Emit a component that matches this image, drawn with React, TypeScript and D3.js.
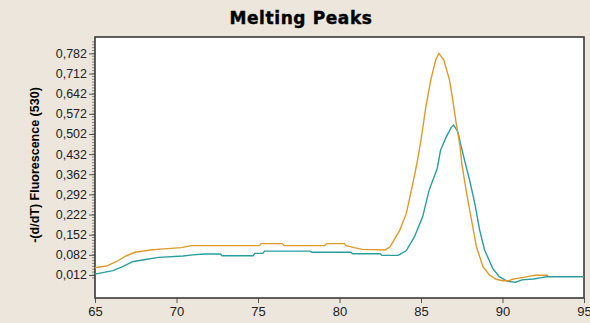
import React, { useEffect, useRef } from 'react';
import * as d3 from 'd3';

const title = 'Melting Peaks';
const yLabel = '-(d/dT) Fluorescence (530)';
const xTicks = [65, 70, 75, 80, 85, 90, 95];
const yTicks = [0.012, 0.082, 0.152, 0.222, 0.292, 0.362, 0.432, 0.502, 0.572, 0.642, 0.712, 0.782];

// orange curve
const orangeT = [65, 65.7, 66.3, 66.9, 67.45, 68.4, 69, 70.3, 70.9, 75.1, 75.2, 76.5, 76.6, 79.1, 79.2, 80.3, 80.4, 80.9, 81.4, 82.8, 83.1, 83.7, 84.1, 84.5, 84.75, 85.0, 85.3, 85.6, 85.9, 86.1, 86.4, 86.75, 86.95, 87.16, 87.4, 87.5, 87.8, 88.1, 88.4, 88.8, 89.2, 89.6, 90.0, 90.4, 90.6, 91.2, 91.6, 92.0, 92.8];
const orangeV = [0.037, 0.043, 0.058, 0.078, 0.091, 0.099, 0.102, 0.107, 0.114, 0.114, 0.121, 0.121, 0.114, 0.114, 0.121, 0.121, 0.114, 0.107, 0.101, 0.099, 0.110, 0.168, 0.226, 0.330, 0.400, 0.481, 0.597, 0.689, 0.759, 0.782, 0.759, 0.689, 0.620, 0.539, 0.458, 0.400, 0.296, 0.203, 0.110, 0.041, 0.012, -0.003, -0.008, -0.008, -0.003, 0.003, 0.007, 0.011, 0.011];

// teal curve
const tealT = [65, 66.1, 66.7, 67.3, 68.1, 68.9, 70.4, 71.0, 71.7, 72.7, 72.8, 74.7, 74.8, 75.3, 75.4, 78.2, 78.3, 80.7, 80.8, 82.5, 82.6, 83.6, 84.1, 84.6, 85.1, 85.5, 86.0, 86.2, 86.55, 86.86, 87.0, 87.26, 87.47, 87.67, 87.98, 88.3, 88.6, 88.9, 89.4, 89.8, 90.3, 90.8, 91.2, 91.9, 92.4, 92.7, 95];
const tealV = [0.015, 0.027, 0.041, 0.058, 0.066, 0.073, 0.078, 0.082, 0.085, 0.085, 0.079, 0.079, 0.087, 0.087, 0.095, 0.095, 0.091, 0.091, 0.086, 0.086, 0.080, 0.080, 0.097, 0.145, 0.214, 0.307, 0.383, 0.446, 0.492, 0.525, 0.533, 0.510, 0.458, 0.411, 0.342, 0.261, 0.168, 0.099, 0.035, 0.006, -0.010, -0.013, -0.005, -0.002, 0.003, 0.006, 0.006];

const W = 590;
const H = 323;

export default function App() {
  const svgRef = useRef<SVGSVGElement>(null);

  useEffect(() => {
    const svg = d3.select(svgRef.current);
    svg.selectAll('*').remove();

    const left = 95, right = 584, top = 37, bottom = 298;

    const x = d3.scaleLinear().domain([65, 95]).range([left, right]);
    const y = d3.scaleLinear().domain([-0.068, 0.839]).range([bottom, top]);

    svg.append('rect').attr('width', W).attr('height', H).attr('fill', '#ece6dc');
    svg.append('rect')
      .attr('x', left).attr('y', top)
      .attr('width', right - left).attr('height', bottom - top)
      .attr('fill', '#ffffff');

    // title
    svg.append('text')
      .attr('x', 301).attr('y', 24)
      .attr('text-anchor', 'middle')
      .style('font-family', '"DejaVu Sans", sans-serif')
      .style('font-weight', 'bold')
      .style('font-size', '17px')
      .style('letter-spacing', '0.6px')
      .attr('stroke', '#000')
      .attr('stroke-width', 0.4)
      .text(title);

    // y label
    svg.append('text')
      .attr('transform', `translate(39, 165) rotate(-90)`)
      .attr('text-anchor', 'middle')
      .style('font-family', '"Liberation Sans", Arial, sans-serif')
      .style('font-weight', 'bold')
      .style('font-size', '12.5px')
      .text(yLabel);

    const fmt = (d: number) => d3.format('.3f')(d).replace('.', ',');

    // minor y ticks
    const minor = d3.range(0.002, 0.83, 0.01);
    svg.append('g')
      .selectAll('line')
      .data(minor)
      .enter()
      .append('line')
      .attr('x1', left - 3).attr('x2', left)
      .attr('y1', d => y(d)).attr('y2', d => y(d))
      .attr('stroke', '#888').attr('stroke-width', 1);

    const yAxis = d3.axisLeft(y).tickValues(yTicks).tickFormat(d => fmt(d as number)).tickSize(6).tickPadding(2);
    const gy = svg.append('g').attr('transform', `translate(${left},0)`).call(yAxis);
    gy.select('.domain').remove();
    gy.selectAll('line').attr('stroke', '#555');
    gy.selectAll('text')
      .style('font-family', '"Liberation Sans", Arial, sans-serif')
      .style('font-size', '12.5px')
      .attr('fill', '#222');

    const xAxis = d3.axisBottom(x).tickValues(xTicks).tickFormat(d3.format('d')).tickSize(5).tickPadding(4);
    const gx = svg.append('g').attr('transform', `translate(0,${bottom})`).call(xAxis);
    gx.select('.domain').remove();
    gx.selectAll('line').attr('stroke', '#555');
    gx.selectAll('text')
      .style('font-family', '"Liberation Sans", Arial, sans-serif')
      .style('font-size', '13px')
      .attr('fill', '#222');

    // frame
    svg.append('rect')
      .attr('x', left).attr('y', top)
      .attr('width', right - left).attr('height', bottom - top)
      .attr('fill', 'none')
      .attr('stroke', '#3a3a3a')
      .attr('stroke-width', 1.6);

    const line = d3.line<[number, number]>()
      .x(d => x(d[0]))
      .y(d => y(d[1]));

    const orange: [number, number][] = orangeT.map((t, i) => [t, orangeV[i]]);
    const teal: [number, number][] = tealT.map((t, i) => [t, tealV[i]]);

    svg.append('path').datum(teal)
      .attr('d', line)
      .attr('fill', 'none')
      .attr('stroke', '#2a9e9e')
      .attr('stroke-width', 1.4);

    svg.append('path').datum(orange)
      .attr('d', line)
      .attr('fill', 'none')
      .attr('stroke', '#e09a2c')
      .attr('stroke-width', 1.4);
  }, []);

  return (
    <svg
      ref={svgRef}
      width={W}
      height={H}
      style={{ position: 'absolute', left: 0, top: 0, display: 'block' }}
    />
  );
}
